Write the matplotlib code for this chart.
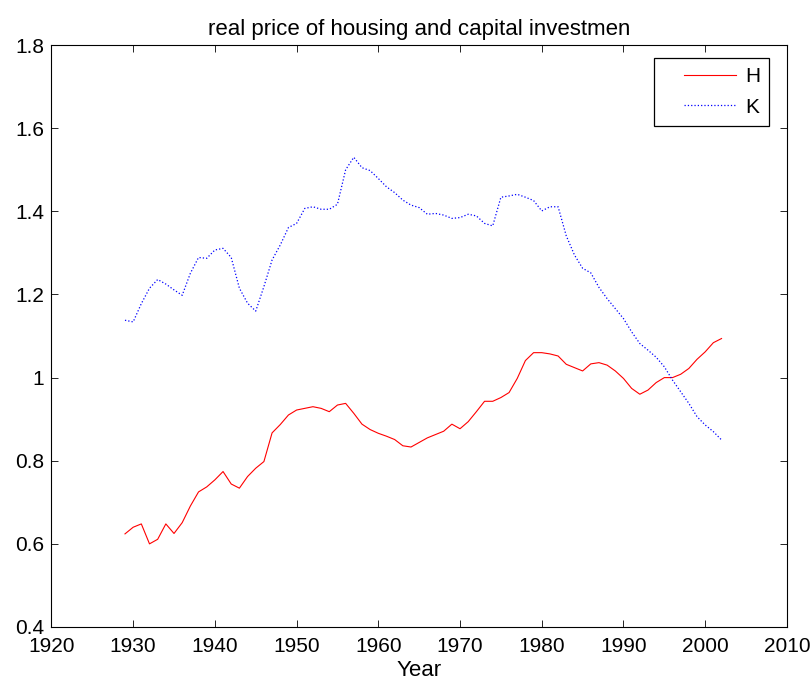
"""
Real price of housing (H) and capital investment (K), 1929-2002
"""

import numpy as np
from matplotlib import pyplot as plt
from matplotlib.legend_handler import HandlerLine2D

# --------------------------------------------------------------------------------------------------
# Data
# --------------------------------------------------------------------------------------------------

years = np.arange(1929, 2003)

H = [0.624, 0.640, 0.648, 0.600, 0.611, 0.648, 0.625, 0.651, 0.691, 0.725,   # 1929-1938
     0.737, 0.754, 0.774, 0.744, 0.734, 0.762, 0.782, 0.798, 0.867, 0.887,   # 1939-1948
     0.910, 0.922, 0.926, 0.930, 0.926, 0.918, 0.934, 0.938, 0.914, 0.888,   # 1949-1958
     0.875, 0.866, 0.859, 0.851, 0.836, 0.833, 0.844, 0.855, 0.863, 0.871,   # 1959-1968
     0.888, 0.877, 0.894, 0.918, 0.943, 0.943, 0.952, 0.964, 0.998, 1.041,   # 1969-1978
     1.060, 1.060, 1.057, 1.052, 1.032, 1.024, 1.016, 1.033, 1.036, 1.030,   # 1979-1988
     1.016, 0.998, 0.974, 0.960, 0.970, 0.988, 1.000, 1.000, 1.008, 1.022,   # 1989-1998
     1.044, 1.062, 1.084, 1.094]                                             # 1999-2002

K = [1.138, 1.134, 1.178, 1.215, 1.236, 1.225, 1.211, 1.198, 1.251, 1.289,   # 1929-1938
     1.287, 1.307, 1.311, 1.289, 1.215, 1.179, 1.160, 1.219, 1.283, 1.319,   # 1939-1948
     1.361, 1.371, 1.407, 1.411, 1.405, 1.405, 1.417, 1.500, 1.530, 1.505,   # 1949-1958
     1.498, 1.479, 1.459, 1.445, 1.427, 1.415, 1.409, 1.393, 1.395, 1.391,   # 1959-1968
     1.383, 1.385, 1.393, 1.389, 1.371, 1.365, 1.434, 1.437, 1.441, 1.434,   # 1969-1978
     1.426, 1.401, 1.411, 1.411, 1.341, 1.295, 1.263, 1.252, 1.217, 1.190,   # 1979-1988
     1.166, 1.142, 1.110, 1.082, 1.066, 1.049, 1.026, 0.994, 0.966, 0.938,   # 1989-1998
     0.906, 0.886, 0.870, 0.850]                                             # 1999-2002

xticks = np.arange(1920, 2011, 10)
yticks = [0.4, 0.6, 0.8, 1.0, 1.2, 1.4, 1.6, 1.8]
ytick_labels = ['0.4', '0.6', '0.8', '1', '1.2', '1.4', '1.6', '1.8']


# Legend handle that leaves a gap on the left, like MATLAB legends do
class PaddedLine(HandlerLine2D):
    def create_artists(self, legend, orig_handle, xdescent, ydescent, width, height,
                       fontsize, trans):
        pad = 0.28 * width
        return super().create_artists(legend, orig_handle, xdescent - pad, ydescent,
                                      width - pad, height, fontsize, trans)


# --------------------------------------------------------------------------------------------------
# Plot (MATLAB-like look)
# --------------------------------------------------------------------------------------------------

plt.rcParams['font.family'] = ['Liberation Sans', 'DejaVu Sans']

fig = plt.figure(figsize=(8.1, 6.83), dpi=100)
ax = fig.add_axes([0.0635, 0.082, 0.908, 0.852])

lh, = ax.plot(years, H, color='#ff0000', linestyle='-', linewidth=0.8, label='H')
lk, = ax.plot(years, K, color='#0000ff', linestyle=':', linewidth=0.9, label='K')

ax.set_xlim(1920, 2010)
ax.set_ylim(0.4, 1.8)
ax.set_xticks(xticks)
ax.set_yticks(yticks)
ax.set_yticklabels(ytick_labels)

ax.tick_params(direction='in', length=5, width=0.6, top=True, right=True,
               labelsize=15)
ax.tick_params(axis='x', pad=7)
ax.tick_params(axis='y', pad=5)
for s in ax.spines.values():
    s.set_linewidth(0.8)

ax.set_title('real price of housing and capital investmen', fontsize=16, pad=7)
ax.set_xlabel('Year', fontsize=16, labelpad=3)

leg = ax.legend(loc='upper right', bbox_to_anchor=(0.976, 0.978), borderaxespad=0,
                fontsize=15, handlelength=3.5, fancybox=False, framealpha=1,
                edgecolor='black', borderpad=0.45, labelspacing=0.55, handletextpad=0.4,
                handler_map={lh: PaddedLine(), lk: PaddedLine()})
leg.get_frame().set_linewidth(0.9)

fig.savefig('out.png', dpi=100)
